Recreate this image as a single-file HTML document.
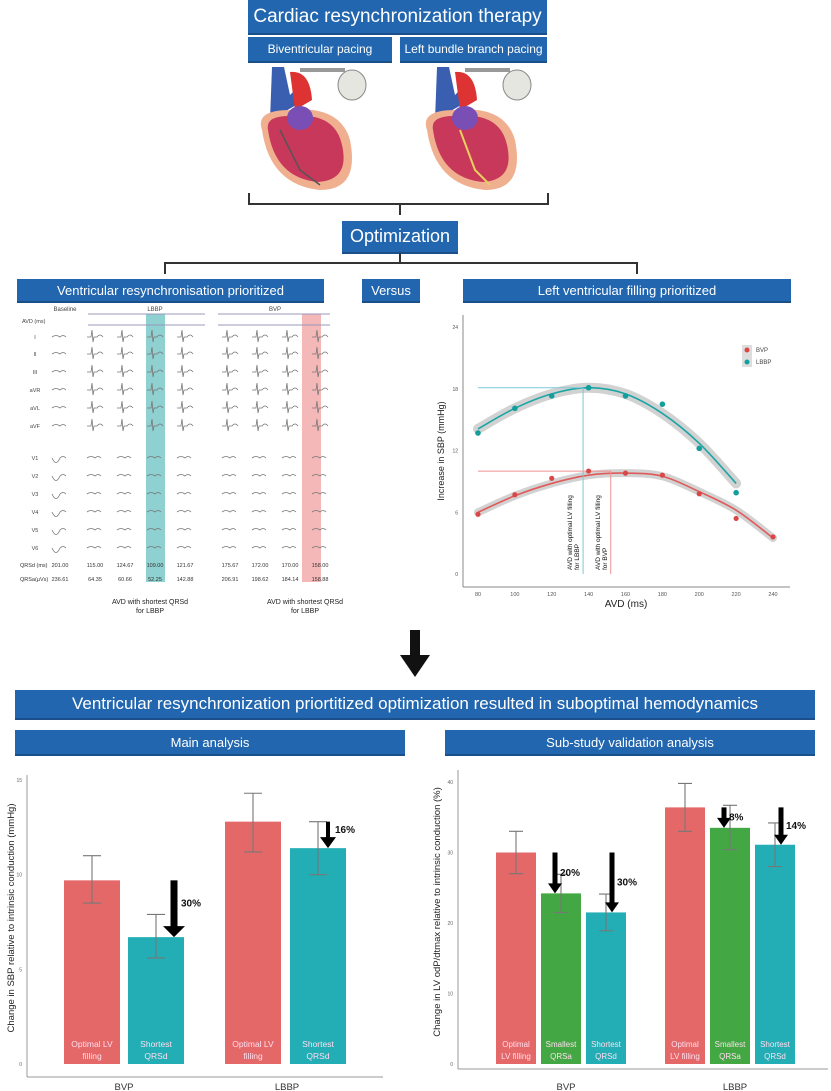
<!DOCTYPE html>
<html><head><meta charset="utf-8"><style>
body{margin:0;width:831px;height:1091px;background:#fff;position:relative;overflow:hidden;font-family:"Liberation Sans",sans-serif}
.box{position:absolute;background:#2166ae;color:#fff;text-align:center;display:flex;align-items:center;justify-content:center;border-bottom:2px solid #1a4f8a;white-space:nowrap}
svg{position:absolute;left:0;top:0}
</style></head><body>
<div class="box" style="left:248px;top:0;width:299px;height:33px;font-size:19px">Cardiac resynchronization therapy</div>
<div class="box" style="left:248px;top:37px;width:144px;height:24px;font-size:12px">Biventricular pacing</div>
<div class="box" style="left:400px;top:37px;width:147px;height:24px;font-size:12px">Left bundle branch pacing</div>
<div class="box" style="left:342px;top:221px;width:116px;height:31px;font-size:18px">Optimization</div>
<div class="box" style="left:17px;top:279px;width:307px;height:22px;font-size:13px">Ventricular resynchronisation prioritized</div>
<div class="box" style="left:362px;top:279px;width:58px;height:22px;font-size:13px">Versus</div>
<div class="box" style="left:463px;top:279px;width:328px;height:22px;font-size:13px">Left ventricular filling prioritized</div>
<div class="box" style="left:15px;top:690px;width:800px;height:28px;font-size:17px">Ventricular resynchronization priortitized optimization resulted in suboptimal hemodynamics</div>
<div class="box" style="left:15px;top:730px;width:390px;height:24px;font-size:13px">Main analysis</div>
<div class="box" style="left:445px;top:730px;width:370px;height:24px;font-size:13px">Sub-study validation analysis</div>

<svg width="831" height="1091">
<g>
<path d="M272 67 L284 67 L290 95 L300 85 L305 100 L270 120 Z" fill="#3a5fb0"/>
<path d="M290 72 Q310 70 312 100 L295 110 Z" fill="#d33"/>
<path d="M300 70 L345 70" stroke="#999" stroke-width="4" fill="none"/>
<ellipse cx="352" cy="85" rx="14" ry="15" fill="#e6e6e0" stroke="#888"/>
<path d="M262 130 Q255 110 290 110 Q340 105 350 140 Q360 190 320 190 Q270 185 262 130 Z" fill="#f0b090"/>
<path d="M268 130 Q265 115 292 116 Q335 112 342 145 Q350 180 318 182 Q275 178 268 130 Z" fill="#c8385a"/>
<ellipse cx="300" cy="118" rx="13" ry="12" fill="#7a4fb5"/>
<path d="M280 130 L300 170 L320 185" stroke="#555" stroke-width="1.5" fill="none"/>
</g>
<g>
<path d="M437 67 L449 67 L455 95 L465 85 L470 100 L435 120 Z" fill="#3a5fb0"/>
<path d="M455 72 Q475 70 477 100 L460 110 Z" fill="#d33"/>
<path d="M465 70 L510 70" stroke="#999" stroke-width="4" fill="none"/>
<ellipse cx="517" cy="85" rx="14" ry="15" fill="#e6e6e0" stroke="#888"/>
<path d="M427 130 Q420 110 455 110 Q505 105 515 140 Q525 190 485 190 Q435 185 427 130 Z" fill="#f0b090"/>
<path d="M433 130 Q430 115 457 116 Q500 112 507 145 Q515 180 483 182 Q440 178 433 130 Z" fill="#c8385a"/>
<ellipse cx="465" cy="118" rx="13" ry="12" fill="#7a4fb5"/>
<path d="M460 130 L475 170 L490 185" stroke="#e8d060" stroke-width="2" fill="none"/>
</g>
<g stroke="#333" stroke-width="2" fill="none">
<path d="M249 193 V204 H548 V193"/><path d="M400 204 V215"/>
<path d="M400 253 V262"/><path d="M165 274 V263 H637 V274"/>
</g>
<g><rect x="410" y="630" width="10" height="28" fill="#111"/><path d="M400 655 L430 655 L415 677 Z" fill="#111"/></g>
</svg>

<svg width="831" height="1091" id="ecg"></svg>
<svg width="831" height="1091" id="scatter"></svg>
<svg width="831" height="1091" id="bar1"></svg>
<svg width="831" height="1091" id="bar2"></svg>

<script>
const NS='http://www.w3.org/2000/svg';
function mk(p,t,a,txt){const e=document.createElementNS(NS,t);for(const k in a)e.setAttribute(k,a[k]);if(txt!==undefined)e.textContent=txt;p.appendChild(e);return e;}

// ECG table
const ecgLeads=['I','II','III','aVR','aVL','aVF','V1','V2','V3','V4','V5','V6'];
const ecgRowY=[337,354,372,390,408,426,458,476,494,512,530,548];
const qrsd=['201.00','115.00','124.67','109.00','121.67','175.67','172.00','170.00','158.00'];
const qrsa=['236.61','64.35','60.66','52.25','142.88','206.91','198.62','184.14','158.88'];
const colX=[60,95,125,155,185,230,260,290,320];
const ecg=document.getElementById('ecg');
const hl1=mk(ecg,'rect',{x:146,y:314,width:19,height:268,fill:'#8fd0d0'});

const hl2=mk(ecg,'rect',{x:302,y:314,width:19,height:268,fill:'#f4b8b8'});

mk(ecg,'text',{x:65,y:311,'font-size':6,fill:'#444','text-anchor':'middle'},'Baseline');
mk(ecg,'text',{x:155,y:311,'font-size':6,fill:'#444','text-anchor':'middle'},'LBBP');
mk(ecg,'text',{x:275,y:311,'font-size':6,fill:'#444','text-anchor':'middle'},'BVP');
mk(ecg,'line',{x1:88,y1:314,x2:205,y2:314,stroke:'#99b'});
mk(ecg,'line',{x1:218,y1:314,x2:330,y2:314,stroke:'#99b'});
mk(ecg,'line',{x1:88,y1:325,x2:205,y2:325,stroke:'#99b'});
mk(ecg,'line',{x1:218,y1:325,x2:330,y2:325,stroke:'#99b'});
mk(ecg,'text',{x:22,y:323,'font-size':5.5,fill:'#444'},'AVD (ms)');
ecgLeads.forEach((l,i)=>{
  const y=ecgRowY[i];
  mk(ecg,'text',{x:35,y:y+2,'font-size':5.5,fill:'#444','text-anchor':'middle'},l);
  colX.forEach((x,j)=>{
    const big=(j>0&&i<6);
    const d=big?`M${x-8} ${y} l4 0 l1 -7 l1 12 l1 -5 l3 0 q3 -4 6 0`:`M${x-8} ${y} q4 ${i>=6&&j==0?9:-3} 8 0 q3 -3 6 0`;
    mk(ecg,'path',{d:d,stroke:'#777','stroke-width':0.8,fill:'none'});
  });
});
mk(ecg,'text',{x:20,y:567,'font-size':5.5,fill:'#333'},'QRSd (ms)');
mk(ecg,'text',{x:20,y:581,'font-size':5.5,fill:'#333'},'QRSa(µVs)');
colX.forEach((x,j)=>{
  mk(ecg,'text',{x:x,y:567,'font-size':5.5,fill:'#333','text-anchor':'middle'},qrsd[j]);
  mk(ecg,'text',{x:x,y:581,'font-size':5.5,fill:'#333','text-anchor':'middle'},qrsa[j]);
});
mk(ecg,'text',{x:150,y:604,'font-size':7,fill:'#222','text-anchor':'middle'},'AVD with shortest QRSd');
mk(ecg,'text',{x:150,y:613,'font-size':7,fill:'#222','text-anchor':'middle'},'for LBBP');
mk(ecg,'text',{x:305,y:604,'font-size':7,fill:'#222','text-anchor':'middle'},'AVD with shortest QRSd');
mk(ecg,'text',{x:305,y:613,'font-size':7,fill:'#222','text-anchor':'middle'},'for LBBP');

// Scatter chart
const avd=[80,100,120,140,160,180,200,220,240];
const bvpMean=[5.8,7.7,9.3,10.0,9.8,9.6,7.8,5.4,3.6];
const bvpFit=[6.0,7.6,8.8,9.6,9.8,9.5,8.0,6.2,3.5];
const lbbpAvd=[80,100,120,140,160,180,200,220];
const lbbpMean=[13.7,16.1,17.3,18.1,17.3,16.5,12.2,7.9];
const lbbpFit=[14.1,16.1,17.5,18.1,17.5,15.6,12.7,8.8];
const sYTicks=[0,6,12,18,24];
const sXTicks=[80,100,120,140,160,180,200,220,240];
const sc=document.getElementById('scatter');
const sx=v=>478+(v-80)*(773-478)/160, sy=v=>574-v*(574-327)/24;
mk(sc,'line',{x1:463,y1:315,x2:463,y2:587,stroke:'#888'});
mk(sc,'line',{x1:463,y1:587,x2:790,y2:587,stroke:'#888'});
sYTicks.forEach(t=>{const e=mk(sc,'text',{x:458,y:sy(t)+2,'font-size':5,fill:'#555','text-anchor':'end'},t);
});
sXTicks.forEach(t=>{const e=mk(sc,'text',{x:sx(t),y:596,'font-size':5.5,fill:'#555','text-anchor':'middle'},t);
});
mk(sc,'text',{x:626,y:607,'font-size':10,fill:'#222','text-anchor':'middle'},'AVD (ms)');
mk(sc,'text',{x:0,y:0,'font-size':9,fill:'#222','text-anchor':'middle',transform:'translate(444 451) rotate(-90)'},'Increase in SBP (mmHg)');
function smooth(pts){let d=`M${pts[0][0]} ${pts[0][1]}`;
  for(let i=0;i<pts.length-1;i++){const p0=pts[i-1]||pts[i],p1=pts[i],p2=pts[i+1],p3=pts[i+2]||p2;
    d+=` C${p1[0]+(p2[0]-p0[0])/6} ${p1[1]+(p2[1]-p0[1])/6} ${p2[0]-(p3[0]-p1[0])/6} ${p2[1]-(p3[1]-p1[1])/6} ${p2[0]} ${p2[1]}`;}
  return d;}
function band(xs,fit,col,w){const p=smooth(xs.map((x,i)=>[sx(x),sy(fit[i])]));
  mk(sc,'path',{d:p,stroke:'#d2d2d2','stroke-width':w,fill:'none','stroke-linecap':'round'});
  mk(sc,'path',{d:p,stroke:col,'stroke-width':1.6,fill:'none'});}
band(avd,bvpFit,'#e05a5a',8);band(lbbpAvd,lbbpFit,'#1aa5a5',10);
mk(sc,'line',{x1:sx(80),y1:sy(18.1),x2:sx(137),y2:sy(18.1),stroke:'#7cc8d8','stroke-width':1});
mk(sc,'line',{x1:sx(137),y1:sy(18.1),x2:sx(137),y2:sy(0),stroke:'#7cc8d8','stroke-width':1});
mk(sc,'line',{x1:sx(80),y1:sy(10.0),x2:sx(152),y2:sy(10.0),stroke:'#f09090','stroke-width':1});
mk(sc,'line',{x1:sx(152),y1:sy(10.0),x2:sx(152),y2:sy(0),stroke:'#f09090','stroke-width':1});
avd.forEach((x,i)=>{const c=mk(sc,'circle',{cx:sx(x),cy:sy(bvpMean[i]),r:2.6,fill:'#d84848'});
});
lbbpAvd.forEach((x,i)=>{const c=mk(sc,'circle',{cx:sx(x),cy:sy(lbbpMean[i]),r:2.8,fill:'#139e9e'});
});
[['AVD with optimal LV filling','for LBBP',sx(137)-11],['AVD with optimal LV filling','for BVP',sx(152)-11]].forEach(a=>{
  mk(sc,'text',{x:0,y:0,'font-size':6.5,fill:'#111',transform:`translate(${a[2]} 570) rotate(-90)`},a[0]);
  mk(sc,'text',{x:0,y:0,'font-size':6.5,fill:'#111',transform:`translate(${a[2]+7} 570) rotate(-90)`},a[1]);
});
mk(sc,'rect',{x:742,y:345,width:10,height:22,fill:'#ddd'});
mk(sc,'circle',{cx:747,cy:350,r:2.5,fill:'#d84848'});mk(sc,'circle',{cx:747,cy:362,r:2.5,fill:'#139e9e'});
mk(sc,'text',{x:756,y:352,'font-size':6,fill:'#444'},'BVP');mk(sc,'text',{x:756,y:364,'font-size':6,fill:'#444'},'LBBP');

// Bar chart 1
const b1Groups=['BVP','LBBP'];
const b1Labels=[['Optimal LV','filling'],['Shortest','QRSd'],['Optimal LV','filling'],['Shortest','QRSd']];
const b1Values=[9.7,6.7,12.8,11.4];
const b1Low=[8.5,5.6,11.2,10.0];
const b1High=[11.0,7.9,14.3,12.8];
const b1Pct=['','30%','','16%'];
const b1Ticks=[0,5,10,15];
const b1=document.getElementById('bar1');
const y1=v=>1064-v*(1064-780)/15;
const b1X=[64,128,225,290], bw1=56, c1=['#e46868','#22aeb4','#e46868','#22aeb4'];
mk(b1,'line',{x1:27,y1:775,x2:27,y2:1077,stroke:'#999'});mk(b1,'line',{x1:27,y1:1077,x2:383,y2:1077,stroke:'#999'});
b1Ticks.forEach(t=>mk(b1,'text',{x:22,y:y1(t)+2,'font-size':5,fill:'#666','text-anchor':'end'},t));
mk(b1,'text',{x:0,y:0,'font-size':9.5,fill:'#222','text-anchor':'middle',transform:'translate(14 918) rotate(-90)'},'Change in SBP relative to intrinsic conduction (mmHg)');
b1Values.forEach((v,i)=>{const x=b1X[i];
  const r=mk(b1,'rect',{x:x,y:y1(v),width:bw1,height:y1(0)-y1(v),fill:c1[i]});
  
  mk(b1,'path',{d:`M${x+bw1/2} ${y1(b1Low[i])}V${y1(b1High[i])}M${x+bw1/2-9} ${y1(b1Low[i])}h18M${x+bw1/2-9} ${y1(b1High[i])}h18`,stroke:'#777','stroke-width':1.1,fill:'none'});
  mk(b1,'text',{x:x+bw1/2,y:1047,'font-size':8.5,fill:'#fde','text-anchor':'middle'},b1Labels[i][0]);
  mk(b1,'text',{x:x+bw1/2,y:1059,'font-size':8.5,fill:'#fde','text-anchor':'middle'},b1Labels[i][1]);
  if(b1Pct[i]){const ax=x+bw1/2+(i==1?18:10),top=y1(b1Values[i-1]),w=i==1?7:4;
    mk(b1,'rect',{x:ax-w/2,y:top,width:w,height:y1(v)-top-10,fill:'#000'});
    mk(b1,'path',{d:`M${ax-w-4} ${y1(v)-11}L${ax+w+4} ${y1(v)-11}L${ax} ${y1(v)}Z`,fill:'#000'});
    mk(b1,'text',{x:ax+7,y:(top+y1(v))/2-2,'font-size':10,'font-weight':'bold',fill:'#111'},b1Pct[i]);}
});
b1Groups.forEach((g,i)=>mk(b1,'text',{x:[124,287][i],y:1090,'font-size':9.5,fill:'#333','text-anchor':'middle'},g));

// Bar chart 2
const b2Groups=['BVP','LBBP'];
const b2Labels=[['Optimal','LV filling'],['Smallest','QRSa'],['Shortest','QRSd'],['Optimal','LV filling'],['Smallest','QRSa'],['Shortest','QRSd']];
const b2Values=[30.0,24.2,21.5,36.4,33.5,31.1];
const b2Low=[27.0,21.5,18.9,33.0,30.4,28.0];
const b2High=[33.0,26.9,24.1,39.8,36.7,34.2];
const b2Pct=['','20%','30%','','8%','14%'];
const b2Ticks=[0,10,20,30,40];
const b2=document.getElementById('bar2');
const y2=v=>1064-v*(1064-782)/40;
const b2X=[496,541,586,665,710,755], bw2=40, c2=['#e46868','#43a843','#22aeb4','#e46868','#43a843','#22aeb4'];
mk(b2,'line',{x1:458,y1:770,x2:458,y2:1069,stroke:'#999'});mk(b2,'line',{x1:458,y1:1069,x2:828,y2:1069,stroke:'#999'});
b2Ticks.forEach(t=>mk(b2,'text',{x:453,y:y2(t)+2,'font-size':5,fill:'#666','text-anchor':'end'},t));
mk(b2,'text',{x:0,y:0,'font-size':9.5,fill:'#222','text-anchor':'middle',transform:'translate(440 912) rotate(-90)'},'Change in LV odP/dtmax relative to intrinsic conduction (%)');
b2Values.forEach((v,i)=>{const x=b2X[i];
  const r=mk(b2,'rect',{x:x,y:y2(v),width:bw2,height:y2(0)-y2(v),fill:c2[i]});
  
  mk(b2,'path',{d:`M${x+bw2/2} ${y2(b2Low[i])}V${y2(b2High[i])}M${x+bw2/2-7} ${y2(b2Low[i])}h14M${x+bw2/2-7} ${y2(b2High[i])}h14`,stroke:'#777','stroke-width':1.1,fill:'none'});
  mk(b2,'text',{x:x+bw2/2,y:1047,'font-size':8,fill:'#fde','text-anchor':'middle'},b2Labels[i][0]);
  mk(b2,'text',{x:x+bw2/2,y:1059,'font-size':8,fill:'#fde','text-anchor':'middle'},b2Labels[i][1]);
  if(b2Pct[i]){const base=b2Values[i<3?0:3],ax=x+bw2/2+(i==2||i==5?6:-6),top=y2(base);
    mk(b2,'rect',{x:ax-2.5,y:top,width:5,height:y2(v)-top-9,fill:'#000'});
    mk(b2,'path',{d:`M${ax-7} ${y2(v)-10}L${ax+7} ${y2(v)-10}L${ax} ${y2(v)}Z`,fill:'#000'});
    mk(b2,'text',{x:ax+5,y:(top+y2(v))/2+3,'font-size':10,'font-weight':'bold',fill:'#111'},b2Pct[i]);}
});
b2Groups.forEach((g,i)=>mk(b2,'text',{x:[566,735][i],y:1090,'font-size':9.5,fill:'#333','text-anchor':'middle'},g));
</script>
</body></html>
